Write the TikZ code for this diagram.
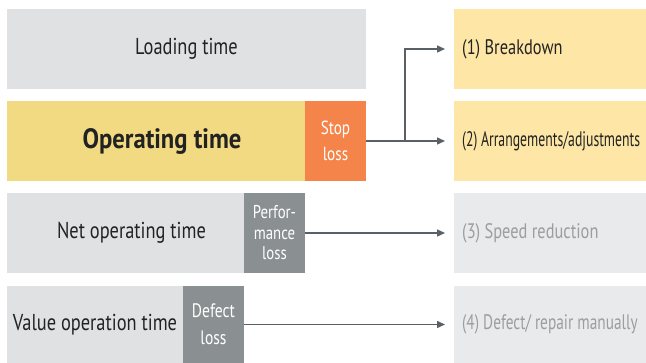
\documentclass[tikz,border=0pt]{standalone}
\usepackage{fontspec}
\setmainfont{PT Sans}[FakeStretch=0.8]
\newfontfamily\opfont{PT Sans}[FakeStretch=0.88]
\newfontfamily\rfont{PT Sans}[FakeStretch=0.78]
\newfontfamily\rfontnarrow{PT Sans}[FakeStretch=0.655]
\newfontfamily\rfontmid{PT Sans}[FakeStretch=0.73]
\usetikzlibrary{arrows.meta}
\definecolor{boxgray}{HTML}{E0E1E3}
\definecolor{opyellow}{HTML}{F2DA83}
\definecolor{stoporange}{HTML}{F4844A}
\definecolor{lossgray}{HTML}{8A9092}
\definecolor{ryellow}{HTML}{FDE6A6}
\definecolor{rgray}{HTML}{E9EAEB}
\definecolor{txtdark}{HTML}{222222}
\definecolor{txtgray}{HTML}{9A9EA1}
\definecolor{linecol}{HTML}{596066}
\tikzset{
  bar/.style={draw=none, inner sep=0pt, minimum height=80pt, text=txtdark, font=\fontsize{23}{26}\selectfont},
  lossbox/.style={draw=none, inner sep=0pt, minimum width=61pt, minimum height=80pt, text=white, align=center},
  rbox/.style={draw=none, inner ysep=0pt, inner xsep=8pt, minimum height=80pt, anchor=west, text width=230pt, align=flush left, font=\rfont\fontsize{21}{25}\selectfont},
  arr/.style={draw=linecol, line width=1.5pt, -{Triangle[length=8pt,width=7pt]}, shorten >=9pt},
}
\begin{document}
\begin{tikzpicture}[x=1pt,y=1pt]
\useasboundingbox (0,0) rectangle (646,363);
% left bars
\node[bar, fill=boxgray, minimum width=359pt] (load) at (186.5,314) {Loading time};
\node[bar, fill=opyellow, minimum width=298pt] (op) at (156,222) {};
\node[font=\opfont\fontsize{28}{30}\selectfont\bfseries, text=txtdark, inner sep=0pt] (optxt) at ([xshift=6pt]op.center) {Operating time};
\node[lossbox, fill=stoporange, font=\fontsize{19}{26}\selectfont] (stop) at (335.5,222) {Stop\\loss};
\node[bar, fill=boxgray, minimum width=237pt] (net) at (125.5,130) {};
\node[font=\fontsize{23}{26}\selectfont, text=txtdark, inner sep=0pt] (nettxt) at ([xshift=6pt]net.center) {Net operating time};
\node[lossbox, fill=lossgray, font=\fontsize{18.5}{20.5}\selectfont] (perf) at (274.5,130) {Perfor-\\mance\\loss};
\node[bar, fill=boxgray, minimum width=176pt, minimum height=77pt] (val) at (95,38.5) {Value operation time};
\node[lossbox, fill=lossgray, minimum height=77pt, font=\fontsize{19.5}{27}\selectfont] (def) at (213.5,38.5) {Defect\\loss};
% right boxes
\node[rbox, fill=ryellow, text=txtdark] (r1) at (454,314) {(1) Breakdown};
\node[rbox, fill=ryellow, text=txtdark, font=\rfontnarrow\fontsize{21}{25}\selectfont] (r2) at (454,222) {(2) Arrangements/adjustments};
\node[rbox, fill=rgray, text=txtgray] (r3) at (454,130) {(3) Speed reduction};
\node[rbox, fill=rgray, text=txtgray, minimum height=77pt, font=\rfontmid\fontsize{21}{25}\selectfont] (r4) at (454,38.5) {(4) Defect/ repair manually};
% connectors
\draw[arr] (stop.east) -- (r2.west);
\draw[arr] (stop.east) -- ++(39,0) |- (r1.west);
\draw[arr] (perf.east) -- (r3.west);
\draw[arr] (def.east) -- (r4.west);
\end{tikzpicture}
\end{document}
